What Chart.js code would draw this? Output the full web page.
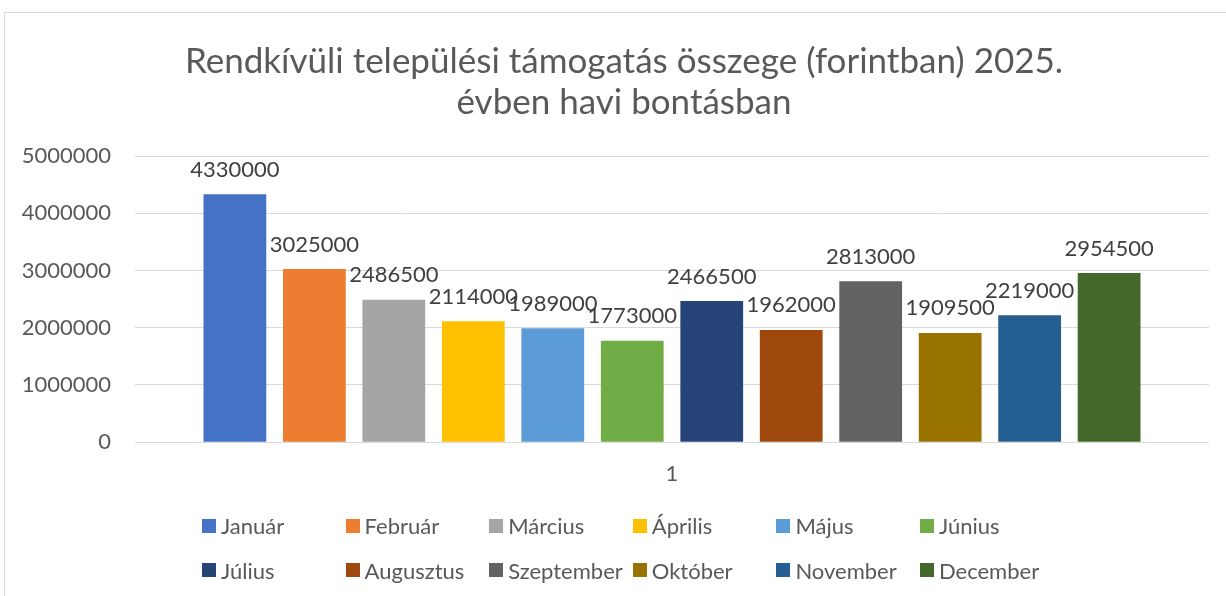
<!DOCTYPE html>
<html>
<head>
<meta charset="utf-8">
<script src="https://cdn.jsdelivr.net/npm/chart.js@4/dist/chart.umd.min.js"></script>
<style>
  html, body { margin: 0; padding: 0; width: 1226px; height: 596px; overflow: hidden; background: #fff; }
  #frame { position: absolute; left: 4px; top: 12px; width: 1300px; height: 700px; border: 1px solid #d9d9d9; box-sizing: border-box; }
  #wrap { position: absolute; left: 4px; top: 12px; width: 1240px; height: 584px; }
  #legend { position: absolute; left: 0; top: 0; width: 1226px; height: 596px; pointer-events: none; font-family: Lato, "Noto Sans", sans-serif; font-size: 22px; color: #595959; }
  .item { position: absolute; display: flex; align-items: center; height: 24px; white-space: nowrap; }
  .box { width: 14px; height: 14px; margin-right: 5px; flex: none; }
</style>
</head>
<body>
<div id="frame"></div>
<div id="wrap"><canvas id="c" width="1240" height="584"></canvas></div>
<div id="legend"></div>
<script>
const categories = ['1'];
const months = ['Január', 'Február', 'Március', 'Április', 'Május', 'Június', 'Július', 'Augusztus', 'Szeptember', 'Október', 'November', 'December'];
const amounts = [4330000, 3025000, 2486500, 2114000, 1989000, 1773000, 2466500, 1962000, 2813000, 1909500, 2219000, 2954500];
const colors = ['#4472C4', '#ED7D31', '#A5A5A5', '#FFC000', '#5B9BD5', '#70AD47', '#264478', '#9E480E', '#636363', '#997300', '#255E91', '#43682B'];
const titleLines = ['Rendkívüli települési támogatás összege (forintban) 2025.', 'évben havi bontásban'];
const yTicks = [0, 1000000, 2000000, 3000000, 4000000, 5000000];

const FONT = 'Lato, "Noto Sans", sans-serif';

const valueLabels = {
  id: 'valueLabels',
  afterDatasetsDraw(chart) {
    const ctx = chart.ctx;
    ctx.save();
    ctx.font = '22px ' + FONT;
    ctx.fillStyle = '#404040';
    ctx.textAlign = 'center';
    ctx.textBaseline = 'middle';
    chart.data.datasets.forEach((ds, i) => {
      const meta = chart.getDatasetMeta(i);
      meta.data.forEach((bar, j) => {
        ctx.fillText(String(ds.data[j]), bar.x, bar.y - 24.5);
      });
    });
    ctx.restore();
  }
};

new Chart(document.getElementById('c'), {
  type: 'bar',
  data: {
    labels: categories,
    datasets: months.map((m, i) => ({
      label: m,
      data: [amounts[i]],
      backgroundColor: colors[i],
      borderWidth: 0,
      categoryPercentage: 0.888,
      barPercentage: 0.79
    }))
  },
  options: {
    responsive: false,
    animation: false,
    layout: { padding: { left: 0, right: 0, top: 0, bottom: 89.4 } },
    plugins: {
      legend: { display: false },
      tooltip: { enabled: false },
      title: {
        display: true,
        text: titleLines,
        color: '#595959',
        font: { family: FONT, size: 35, weight: 'normal', lineHeight: 41 / 35 },
        padding: { top: 29.5, bottom: 32.5 }
      }
    },
    scales: {
      x: {
        grid: { display: false, drawTicks: false },
        border: { display: false },
        ticks: { color: '#595959', font: { family: FONT, size: 22 }, padding: 19 }
      },
      y: {
        min: 0,
        max: 5000000,
        afterFit(scale) { scale.width = 131; },
        afterBuildTicks(scale) { scale.ticks = yTicks.map(v => ({ value: v })); },
        grid: { color: '#d9d9d9', lineWidth: 1, drawTicks: false },
        border: { display: false },
        ticks: { color: '#595959', font: { family: FONT, size: 22 }, padding: 24, callback: v => String(v) }
      },
      yRight: {
        position: 'right',
        min: 0,
        max: 5000000,
        afterFit(scale) { scale.width = 35; },
        grid: { display: false, drawTicks: false },
        border: { display: false },
        ticks: { display: false }
      }
    }
  },
  plugins: [valueLabels]
});

const legend = document.getElementById('legend');
months.forEach((m, i) => {
  const col = i % 6, row = Math.floor(i / 6);
  const it = document.createElement('div');
  it.className = 'item';
  it.style.left = (202 + col * 143.6) + 'px';
  it.style.top = (525.5 + row * 44.5 - 12) + 'px';
  const b = document.createElement('span');
  b.className = 'box';
  b.style.background = colors[i];
  const t = document.createElement('span');
  t.textContent = m;
  it.appendChild(b);
  it.appendChild(t);
  legend.appendChild(it);
});
</script>
</body>
</html>
